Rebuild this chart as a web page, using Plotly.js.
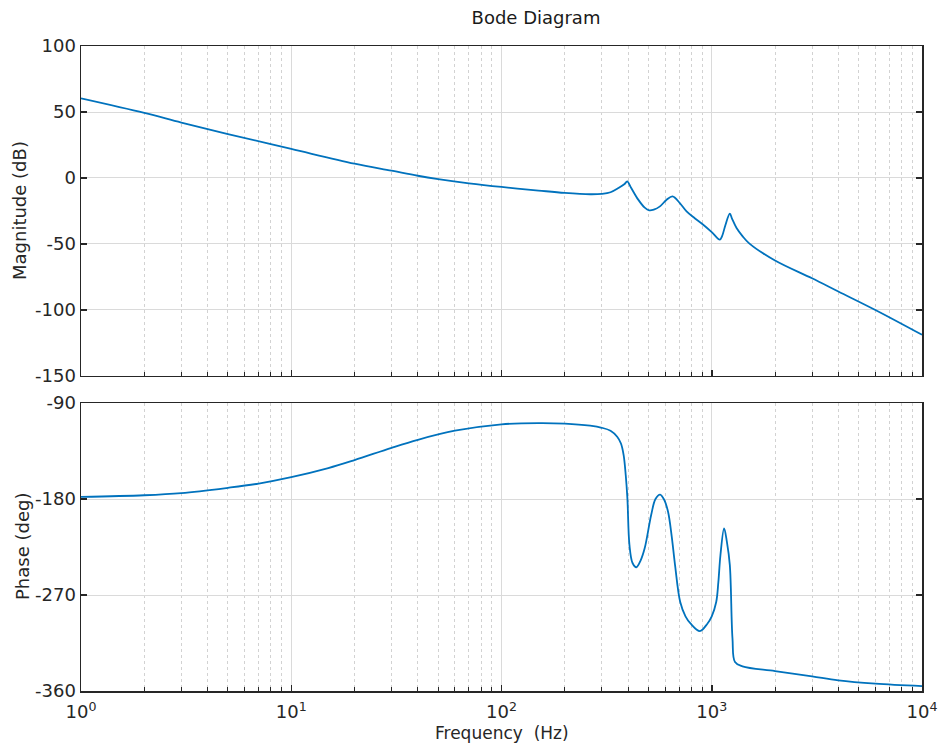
<!DOCTYPE html>
<html>
<head>
<meta charset="utf-8">
<script src="https://cdn.plot.ly/plotly-3.0.1.min.js"></script>
<style>html,body{margin:0;padding:0;background:#fff;}#chart{width:943px;height:749px;}</style>
</head>
<body>
<div id="chart"></div>
<script>
// Magnitude response (Hz, dB)
const freqMag = [1, 2, 3, 5, 10, 20, 30, 40, 50, 70, 100, 150, 200, 264, 300, 330, 360, 385, 396, 414, 447, 480, 504, 530, 567, 610, 651, 705, 759, 830, 911, 1000, 1092, 1120, 1160, 1219, 1250, 1312, 1400, 1507, 2000, 3000, 4000, 6000, 10000];
const magDb = [60.3, 49.3, 42, 33.3, 22, 10.8, 5.5, 1.7, -0.8, -4, -6.8, -9.5, -11.3, -12.3, -12, -10.8, -7.6, -4.5, -2.6, -7.6, -16.4, -22.5, -24.5, -24, -21.5, -16.5, -13.9, -19, -25.3, -30.5, -35.4, -41, -46.7, -44, -36, -27, -31, -37.9, -44, -49.5, -62.5, -76, -86, -100, -118.8];

// Phase response (Hz, deg)
const freqPhase = [1, 2, 3, 5, 7, 10, 15, 20, 30, 40, 60, 100, 150, 200, 264, 300, 330, 355, 370, 381, 390, 397, 406, 420, 438, 458, 480, 515, 540, 568, 595, 620, 645, 669, 708, 750, 794, 878, 953, 1000, 1050, 1075, 1100, 1145, 1180, 1219, 1255, 1290, 1400, 2000, 3000, 4000, 6000, 10000];
const phaseDeg = [-178, -176.5, -174.5, -169.5, -165.5, -159.5, -151, -143.5, -132, -124.5, -116, -110, -108.8, -109.3, -111.3, -113.2, -116, -121.6, -128, -138.8, -158, -179.4, -223, -240, -244, -238, -226, -195, -180, -175.9, -181, -192.2, -215, -242, -276.6, -290, -296.9, -303.8, -296.9, -290, -276.6, -258, -232.5, -207.5, -220, -242, -310.9, -332.8, -336.9, -341.3, -346.3, -350, -353.1, -355.4];

// Tick labels
const xTickVals = [1, 10, 100, 1000, 10000];
const xTickText = ['10<sup>0</sup>', '10<sup>1</sup>', '10<sup>2</sup>', '10<sup>3</sup>', '10<sup>4</sup>'];
const xMinorVals = [2,3,4,5,6,7,8,9, 20,30,40,50,60,70,80,90, 200,300,400,500,600,700,800,900, 2000,3000,4000,5000,6000,7000,8000,9000];
const magTicks = [-150, -100, -50, 0, 50, 100];
const magTickText = ['-150', '-100', '-50', '0', '50', '100'];
const phaseTicks = [-360, -270, -180, -90];
const phaseTickText = ['-360', '-270', '-180', '-90'];

const FONT = 'DejaVu Sans';
const AX = '#262626';
const lineColor = '#0072BD';
const magDomain = [0.4884, 1];
const phaseDomain = [0, 0.4465];

function xAxis(showLabels, anchor) {
  return {
    type: 'log', range: [0, 4], anchor: anchor,
    tickmode: 'array', tickvals: xTickVals, ticktext: xTickText,
    showticklabels: showLabels, ticklabelstandoff: 4,
    ticks: 'inside', ticklen: 6, tickwidth: 1.5, tickcolor: AX,
    showline: true, linecolor: AX, linewidth: 1.5, mirror: true,
    showgrid: true, gridcolor: '#dadada', gridwidth: 1,
    zeroline: false,
    minor: {tickmode: 'array', tickvals: xMinorVals, ticks: 'inside', ticklen: 4, tickwidth: 1, tickcolor: AX,
            showgrid: true, gridcolor: '#d2d2d2', gridwidth: 1, griddash: 'dot'},
    tickfont: {family: FONT, size: 18, color: AX}
  };
}
function xTopAxis(over, anchor) {
  return {
    type: 'log', range: [0, 4], overlaying: over, anchor: anchor, side: 'top',
    tickmode: 'array', tickvals: xTickVals, showticklabels: false,
    ticks: 'inside', ticklen: 6, tickwidth: 1.5, tickcolor: AX,
    showline: false, showgrid: false, zeroline: false,
    minor: {tickmode: 'array', tickvals: xMinorVals, ticks: 'inside', ticklen: 4, tickwidth: 1, tickcolor: AX, showgrid: false}
  };
}
function yAxis(range, ticks, text, domain, anchor) {
  return {
    range: range, domain: domain, anchor: anchor,
    tickmode: 'array', tickvals: ticks, ticktext: text,
    ticks: 'inside', ticklen: 6, tickwidth: 1.5, tickcolor: AX,
    showline: true, linecolor: AX, linewidth: 1.5, mirror: 'ticks',
    showgrid: true, gridcolor: '#dadada', gridwidth: 1,
    zeroline: false,
    tickfont: {family: FONT, size: 18, color: AX}
  };
}

const traces = [
  {x: freqMag, y: magDb, xaxis: 'x', yaxis: 'y', mode: 'lines', type: 'scatter',
   line: {color: lineColor, width: 1.8, shape: 'spline', smoothing: 1}, hoverinfo: 'x+y'},
  {x: freqPhase, y: phaseDeg, xaxis: 'x2', yaxis: 'y2', mode: 'lines', type: 'scatter',
   line: {color: lineColor, width: 1.8, shape: 'spline', smoothing: 1}, hoverinfo: 'x+y'}
];

const layout = {
  width: 943, height: 749,
  margin: {l: 81, r: 21, t: 46, b: 58},
  paper_bgcolor: '#ffffff', plot_bgcolor: '#ffffff',
  showlegend: false,
  title: {text: 'Bode Diagram', font: {family: FONT, size: 18, color: '#1a1a1a'},
          x: 536/943, xref: 'container', xanchor: 'center', y: 1 - 18/749, yref: 'container', yanchor: 'middle'},
  xaxis: xAxis(false, 'y'),
  yaxis: yAxis([-150, 100], magTicks, magTickText, magDomain, 'x'),
  xaxis2: xAxis(true, 'y2'),
  yaxis2: yAxis([-360, -90], phaseTicks, phaseTickText, phaseDomain, 'x2'),
  xaxis3: xTopAxis('x', 'y'),
  xaxis4: xTopAxis('x2', 'y2'),
  annotations: [
    {text: 'Magnitude (dB)', textangle: -90, xref: 'paper', x: 0, xshift: -61, xanchor: 'center',
     yref: 'paper', y: (magDomain[0] + magDomain[1]) / 2, yanchor: 'middle', showarrow: false,
     font: {family: FONT, size: 18, color: AX}},
    {text: 'Phase (deg)', textangle: -90, xref: 'paper', x: 0, xshift: -59, xanchor: 'center',
     yref: 'paper', y: (phaseDomain[0] + phaseDomain[1]) / 2, yanchor: 'middle', showarrow: false,
     font: {family: FONT, size: 18, color: AX}},
    {text: 'Frequency\u00a0\u00a0(Hz)', xref: 'paper', x: 0.5, xanchor: 'center',
     yref: 'paper', y: 0, yshift: -42, yanchor: 'middle', showarrow: false,
     font: {family: FONT, size: 17, color: AX}}
  ]
};

Plotly.newPlot('chart', traces, layout, {displayModeBar: false, staticPlot: true});
</script>
</body>
</html>
